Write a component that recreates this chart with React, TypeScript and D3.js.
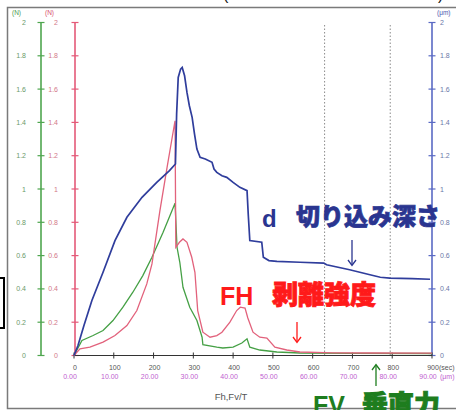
import React from "react";
import * as d3 from "d3";

// time axis (sec) and second-row labels
const timeTicks = [0, 100, 200, 300, 400, 500, 600, 700, 800, 900];
const timeLabels2 = ["0.00", "10.00", "20.00", "30.00", "40.00", "50.00", "60.00", "70.00", "80.00", "90.00"];
const valueTicks = [0, 0.2, 0.4, 0.6, 0.8, 1, 1.2, 1.4, 1.6, 1.8, 2];
const valueLabels = ["0", "0.2", "0.4", "0.6", "0.8", "1", "1.2", "1.4", "1.6", "1.8", "2"];
const markerTimes = [630, 795];

// d : cutting depth
const depthT = [0, 10, 25, 45, 73, 103, 133, 171, 208, 240, 255, 258, 262, 268, 272, 278, 284, 290, 297, 303, 309, 317, 330, 347, 352, 359, 372, 384, 400, 417, 435, 438, 442, 472, 476, 490, 510, 568, 628, 635, 693, 744, 770, 794, 850, 895];
const depthV = [0, 0.06, 0.18, 0.33, 0.5, 0.69, 0.83, 0.95, 1.04, 1.11, 1.15, 1.45, 1.67, 1.72, 1.73, 1.68, 1.58, 1.5, 1.43, 1.33, 1.24, 1.19, 1.18, 1.16, 1.12, 1.1, 1.08, 1.07, 1.04, 1.01, 0.99, 0.85, 0.69, 0.68, 0.59, 0.57, 0.565, 0.56, 0.555, 0.545, 0.515, 0.485, 0.47, 0.465, 0.462, 0.458];

// FH : peel strength
const fhT = [0, 15, 40, 73, 103, 133, 158, 183, 196, 216, 234, 254, 256, 265, 274, 284, 296, 304, 311, 324, 342, 359, 372, 392, 409, 418, 430, 437, 450, 467, 485, 505, 535, 568, 650, 750, 900];
const fhV = [0, 0.04, 0.05, 0.08, 0.12, 0.18, 0.27, 0.43, 0.55, 0.87, 1.13, 1.41, 0.65, 0.68, 0.7, 0.68, 0.59, 0.5, 0.27, 0.14, 0.11, 0.12, 0.14, 0.2, 0.27, 0.29, 0.285, 0.225, 0.14, 0.11, 0.105, 0.05, 0.033, 0.021, 0.016, 0.015, 0.014];

// FV : vertical force
const fvT = [0, 20, 48, 73, 98, 123, 148, 173, 196, 224, 254, 259, 266, 274, 291, 309, 322, 324, 359, 374, 400, 422, 435, 442, 467, 510, 568, 700, 900];
const fvV = [0, 0.09, 0.12, 0.15, 0.21, 0.29, 0.38, 0.48, 0.59, 0.74, 0.915, 0.65, 0.56, 0.41, 0.29, 0.21, 0.11, 0.065, 0.05, 0.045, 0.05, 0.075, 0.1, 0.05, 0.033, 0.021, 0.015, 0.013, 0.012];

const W = 456;
const H = 410;
const latin = "'Liberation Sans', Arial, sans-serif";
const cjk = "'Noto Sans CJK JP', 'Liberation Sans', sans-serif";

export default function App() {
  const x = d3.scaleLinear().domain([0, 900]).range([74, 432]);
  const y = d3.scaleLinear().domain([0, 2]).range([355.5, 22.5]);

  const line = d3
    .line<[number, number]>()
    .x((d) => x(d[0]))
    .y((d) => y(d[1]));

  const zip = (t: number[], v: number[]) => t.map((tt, i) => [tt, v[i]] as [number, number]);

  const yAxis = (ax: number, color: string, textColor: string, side: "left" | "right", offset: number) => (
    <g>
      <line x1={ax} x2={ax} y1={y(2)} y2={y(0)} stroke={color} strokeWidth={1.6} />
      {valueTicks.map((v, i) => (
        <g key={i}>
          <line x1={ax - 3.5} x2={ax + 3.5} y1={y(v)} y2={y(v)} stroke={color} strokeWidth={1.2} />
          <text
            x={side === "left" ? ax - offset : ax + offset}
            y={y(v) + 2.5}
            textAnchor={side === "left" ? "end" : "start"}
            fontSize={7}
            fontFamily={latin}
            fill={textColor}
          >
            {valueLabels[i]}
          </text>
        </g>
      ))}
    </g>
  );

  return (
    <svg
      width={W}
      height={H}
      style={{ position: "absolute", left: 0, top: 0, background: "#fff" }}
    >
      <rect x={0} y={0} width={W} height={H} fill="#fff" />
      {/* clipped title remnants above the frame */}
      <text x={223} y={0} fontSize={16} fontFamily={latin} fill="#111">(</text>
      <text x={438} y={0} fontSize={16} fontFamily={latin} fill="#111">)</text>
      {/* frame */}
      <rect x={7.5} y={7.5} width={470} height={401} fill="none" stroke="#7a7a7a" strokeWidth={1.5} />
      {/* black box edge at far left */}
      <rect x={-12} y={278} width={16} height={50} fill="none" stroke="#000" strokeWidth={2} />

      {/* unit labels */}
      <text x={12} y={15} fontSize={6.5} fontFamily={latin} fill="#4e9a4e">(N)</text>
      <text x={45} y={15} fontSize={6.5} fontFamily={latin} fill="#d8506e">(N)</text>
      <text x={437} y={15} fontSize={6.5} fontFamily={latin} fill="#4a58b0">(μm)</text>

      {/* marker lines */}
      {markerTimes.map((t, i) => (
        <line key={i} x1={x(t)} x2={x(t)} y1={25} y2={y(0)} stroke="#8a8a8a" strokeWidth={1} strokeDasharray="1.5,2" />
      ))}

      {yAxis(41, "#4fa64f", "#6a9a6a", "left", 15)}
      {yAxis(75, "#e45a78", "#d27888", "left", 17)}
      {yAxis(432, "#5a6ac4", "#6a78a8", "right", 8)}

      {/* x axis */}
      <line x1={x(0)} x2={x(900)} y1={y(0)} y2={y(0)} stroke="#333" strokeWidth={1.2} />
      {timeTicks.map((t, i) => (
        <g key={t}>
          <line x1={x(t)} x2={x(t)} y1={y(0) - 3} y2={y(0) + 3} stroke="#333" strokeWidth={1} />
          <text x={x(t) + 1} y={370} textAnchor="middle" fontSize={7} fontFamily={latin} fill="#555">{t}</text>
          <text x={x(t) - 4} y={379} textAnchor="middle" fontSize={7} fontFamily={latin} fill="#c060d0">{timeLabels2[i]}</text>
        </g>
      ))}
      <text x={439} y={370} fontSize={7} fontFamily={latin} fill="#555">(sec)</text>
      <text x={440} y={379} fontSize={7} fontFamily={latin} fill="#c060d0">(μm)</text>
      <text x={231} y={400} textAnchor="middle" fontSize={9.5} fontFamily={latin} fill="#555">Fh,Fv/T</text>

      {/* series */}
      <path d={line(zip(fvT, fvV)) || ""} fill="none" stroke="#45a045" strokeWidth={1.3} />
      <path d={line(zip(fhT, fhV)) || ""} fill="none" stroke="#e2627c" strokeWidth={1.3} />
      <path d={line(zip(depthT, depthV)) || ""} fill="none" stroke="#2f3d9c" strokeWidth={1.7} />

      {/* annotations */}
      <text x={262} y={227} fontSize={24} fontWeight={700} fontFamily={latin} fill="#2a3590">d</text>
      <text x={296} y={225} fontSize={24} fontWeight={900} fontFamily={cjk} fill="#2a3590" stroke="#2a3590" strokeWidth={0.7}>切り込み深さ</text>
      <line x1={352} x2={352} y1={240} y2={265} stroke="#2a3590" strokeWidth={1.3} />
      <path d="M348,260 L352,265.5 L356,260" fill="none" stroke="#2a3590" strokeWidth={1.3} />

      <text x={220} y={305} fontSize={25} fontWeight={700} fontFamily={latin} fill="#ff1a1a">FH</text>
      <text x={272} y={304} fontSize={26} fontWeight={900} fontFamily={cjk} fill="#ff1a1a" stroke="#ff1a1a" strokeWidth={0.9}>剥離強度</text>
      <line x1={297} x2={297} y1={322} y2={342} stroke="#ff1a1a" strokeWidth={1.3} />
      <path d="M293,337 L297,342.5 L301,337" fill="none" stroke="#ff1a1a" strokeWidth={1.3} />

      <text x={313} y={414} fontSize={25} fontWeight={700} fontFamily={latin} fill="#1e7d1e">FV</text>
      <text x={362} y={414} fontSize={26} fontWeight={900} fontFamily={cjk} fill="#1e7d1e" stroke="#1e7d1e" strokeWidth={0.9}>垂直力</text>
      <line x1={376} x2={376} y1={365} y2={386} stroke="#1e7d1e" strokeWidth={1.3} />
      <path d="M372,370 L376,364.5 L380,370" fill="none" stroke="#1e7d1e" strokeWidth={1.3} />
    </svg>
  );
}
